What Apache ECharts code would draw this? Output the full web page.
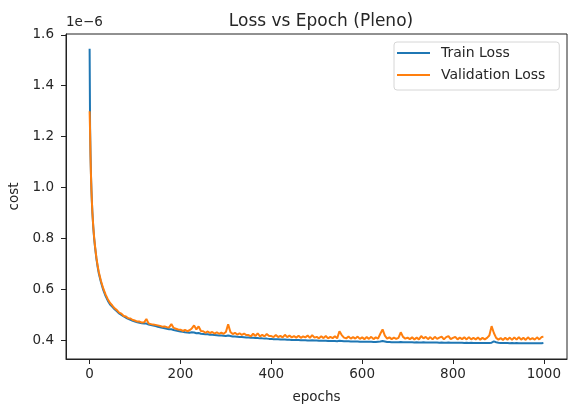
<!DOCTYPE html>
<html>
<head>
<meta charset="utf-8">
<script src="https://cdn.jsdelivr.net/npm/echarts@6/dist/echarts.min.js"></script>
<style>
html,body{margin:0;padding:0;background:#fff;}
#chart{width:570px;height:405px;}
</style>
</head>
<body>
<div id="chart"></div>
<script>
// Epochs
const epochs = [0,1,2,3,4,5,6,8,10,12,15,18,20,25,30,35,40,45,
50,55,60,65,70,75,80,85,90,95,
100,105,110,115,120,125,130,135,140,145,
150,155,160,165,170,175,180,185,190,195,
200,205,210,215,220,225,230,235,240,245,
250,255,260,265,270,275,280,285,290,295,
300,305,310,315,320,325,330,335,340,345,
350,355,360,365,370,375,380,385,390,395,
400,405,410,415,420,425,430,435,440,445,
450,455,460,465,470,475,480,485,490,495,
500,505,510,515,520,525,530,535,540,545,
550,555,560,565,570,575,580,585,590,595,
600,605,610,615,620,625,630,635,640,645,
650,655,660,665,670,675,680,685,690,695,
700,705,710,715,720,725,730,735,740,745,
750,755,760,765,770,775,780,785,790,795,
800,805,810,815,820,825,830,835,840,845,
850,855,860,865,870,875,880,885,890,895,
900,905,910,915,920,925,930,935,940,945,
950,955,960,965,970,975,980,985,990,995,999];

// Train loss (units of 1e-6)
const trainLoss = [1.545,1.24,1.13,1.05,0.99,0.945,0.905,0.845,0.80,0.765,0.72,0.685,0.665,0.628,0.598,0.575,0.556,0.541,
0.532,0.522,0.514,0.506,0.500,0.494,0.489,0.485,0.481,0.477,
0.474,0.471,0.469,0.467,0.466,0.466,0.462,0.460,0.458,0.456,
0.454,0.452,0.450,0.448,0.446,0.444,0.444,0.441,0.439,0.437,
0.435,0.434,0.432,0.431,0.430,0.432,0.431,0.428,0.429,0.426,
0.425,0.424,0.424,0.422,0.422,0.421,0.420,0.419,0.419,0.418,
0.417,0.419,0.417,0.415,0.415,0.414,0.413,0.413,0.412,0.411,
0.411,0.410,0.410,0.409,0.409,0.408,0.408,0.407,0.407,0.406,
0.406,0.405,0.405,0.405,0.404,0.404,0.404,0.403,0.403,0.402,
0.402,0.402,0.402,0.401,0.401,0.401,0.400,0.400,0.401,0.400,
0.400,0.399,0.399,0.399,0.399,0.398,0.398,0.398,0.398,0.397,
0.399,0.398,0.397,0.397,0.397,0.396,0.396,0.396,0.396,0.395,
0.395,0.395,0.395,0.395,0.395,0.394,0.394,0.395,0.396,0.398,
0.396,0.394,0.394,0.393,0.393,0.393,0.393,0.394,0.393,0.393,
0.393,0.393,0.393,0.392,0.393,0.392,0.392,0.393,0.392,0.392,
0.392,0.392,0.392,0.392,0.391,0.392,0.391,0.391,0.392,0.391,
0.391,0.391,0.391,0.391,0.391,0.390,0.391,0.390,0.391,0.390,
0.390,0.390,0.390,0.390,0.390,0.390,0.390,0.391,0.396,0.393,
0.391,0.390,0.390,0.390,0.390,0.389,0.390,0.389,0.390,0.389,
0.389,0.389,0.389,0.389,0.389,0.389,0.389,0.389,0.389,0.389,0.390];

// Validation loss (units of 1e-6)
const valLoss = [1.300,1.22,1.12,1.045,0.99,0.945,0.905,0.848,0.803,0.768,0.724,0.690,0.670,0.633,0.604,0.581,0.562,0.547,
0.537,0.526,0.519,0.509,0.505,0.496,0.494,0.487,0.486,0.480,
0.478,0.474,0.474,0.470,0.471,0.484,0.466,0.464,0.462,0.461,
0.459,0.457,0.454,0.455,0.452,0.451,0.464,0.449,0.446,0.443,
0.442,0.437,0.441,0.436,0.440,0.447,0.459,0.443,0.455,0.437,
0.436,0.430,0.435,0.429,0.433,0.427,0.432,0.426,0.431,0.426,
0.433,0.463,0.433,0.425,0.430,0.423,0.428,0.422,0.427,0.421,
0.421,0.416,0.426,0.417,0.428,0.416,0.422,0.416,0.425,0.417,
0.417,0.413,0.421,0.413,0.418,0.412,0.422,0.413,0.419,0.412,
0.417,0.411,0.418,0.410,0.416,0.412,0.419,0.410,0.421,0.411,
0.414,0.408,0.416,0.409,0.417,0.408,0.414,0.409,0.416,0.408,
0.436,0.421,0.411,0.408,0.415,0.407,0.413,0.407,0.415,0.406,
0.412,0.405,0.413,0.406,0.414,0.405,0.412,0.407,0.426,0.443,
0.419,0.407,0.412,0.405,0.411,0.406,0.410,0.432,0.414,0.407,
0.411,0.405,0.412,0.404,0.411,0.404,0.417,0.408,0.414,0.405,
0.413,0.404,0.414,0.406,0.411,0.415,0.404,0.413,0.417,0.405,
0.410,0.414,0.404,0.411,0.405,0.412,0.404,0.413,0.404,0.410,
0.404,0.411,0.403,0.410,0.404,0.410,0.419,0.456,0.429,0.410,
0.403,0.409,0.402,0.410,0.403,0.411,0.402,0.412,0.403,0.413,
0.403,0.410,0.402,0.412,0.404,0.409,0.403,0.412,0.404,0.413,0.414];

const xTicks = [0,200,400,600,800,1000];
const yTicks = [0.4,0.6,0.8,1.0,1.2,1.4,1.6];

const FONT = 'DejaVu Sans';
const TXT = '#262626';
const chart = echarts.init(document.getElementById('chart'), null, {renderer:'canvas'});

function pairs(ys){ return epochs.map((e,i)=>[e, ys[i]]); }

chart.setOption({
  animation:false,
  backgroundColor:'#fff',
  title:{
    text:'Loss vs Epoch (Pleno)',
    left:316, top:8, textAlign:'center',
    textStyle:{fontFamily:FONT, fontSize:17, fontWeight:'normal', color:TXT}
  },
  legend:{
    data:['Train Loss','Validation Loss'],
    orient:'vertical',
    left:394, top:42,
    icon:'rect', itemWidth:33, itemHeight:2,
    itemGap:6,
    padding:[3,14,7,3],
    borderColor:'#d6d6d6', borderWidth:1, borderRadius:3,
    backgroundColor:'#fff',
    textStyle:{fontFamily:FONT, fontSize:14, color:TXT, padding:[0,0,0,6], lineHeight:16}
  },
  grid:{left:66, right:3, top:34, bottom:46, outerBoundsMode:'none', containLabel:false,
    show:true, borderColor:'#222', borderWidth:1, backgroundColor:'#fff'},
  xAxis:{
    type:'value', min:-52, max:1051,
    name:'epochs', nameLocation:'middle', nameGap:31,
    nameTextStyle:{fontFamily:FONT, fontSize:13.5, color:TXT},
    axisLine:{show:true, onZero:false, lineStyle:{color:'#222', width:1}},
    axisTick:{show:true, customValues:xTicks, length:5, inside:false, lineStyle:{color:'#222'}},
    axisLabel:{customValues:xTicks, fontFamily:FONT, fontSize:13.5, color:TXT, margin:8,
      formatter:v=>String(Math.round(v))},
    splitLine:{show:false}
  },
  yAxis:{
    type:'value', min:0.327, max:1.603,
    name:'cost', nameLocation:'middle', nameGap:41, nameRotate:90,
    nameTextStyle:{fontFamily:FONT, fontSize:13.5, color:TXT},
    axisLine:{show:true, onZero:false, lineStyle:{color:'#222', width:1}},
    axisTick:{show:true, customValues:yTicks, length:5, lineStyle:{color:'#222'}},
    axisLabel:{customValues:yTicks, fontFamily:FONT, fontSize:13.5, color:TXT, margin:12,
      formatter:v=>v.toFixed(1)},
    splitLine:{show:false}
  },
  graphic:[{
    type:'text', left:66, top:15,
    style:{text:'1e\u22126', font:'13.5px "DejaVu Sans"', fill:TXT}
  }],
  series:[
    {name:'Train Loss', type:'line', data:pairs(trainLoss), showSymbol:false, symbol:'none',
     lineStyle:{color:'#1f77b4', width:2}, itemStyle:{color:'#1f77b4'}, z:2},
    {name:'Validation Loss', type:'line', data:pairs(valLoss), showSymbol:false, symbol:'none',
     lineStyle:{color:'#ff7f0e', width:2}, itemStyle:{color:'#ff7f0e'}, z:3}
  ]
});
</script>
</body>
</html>
